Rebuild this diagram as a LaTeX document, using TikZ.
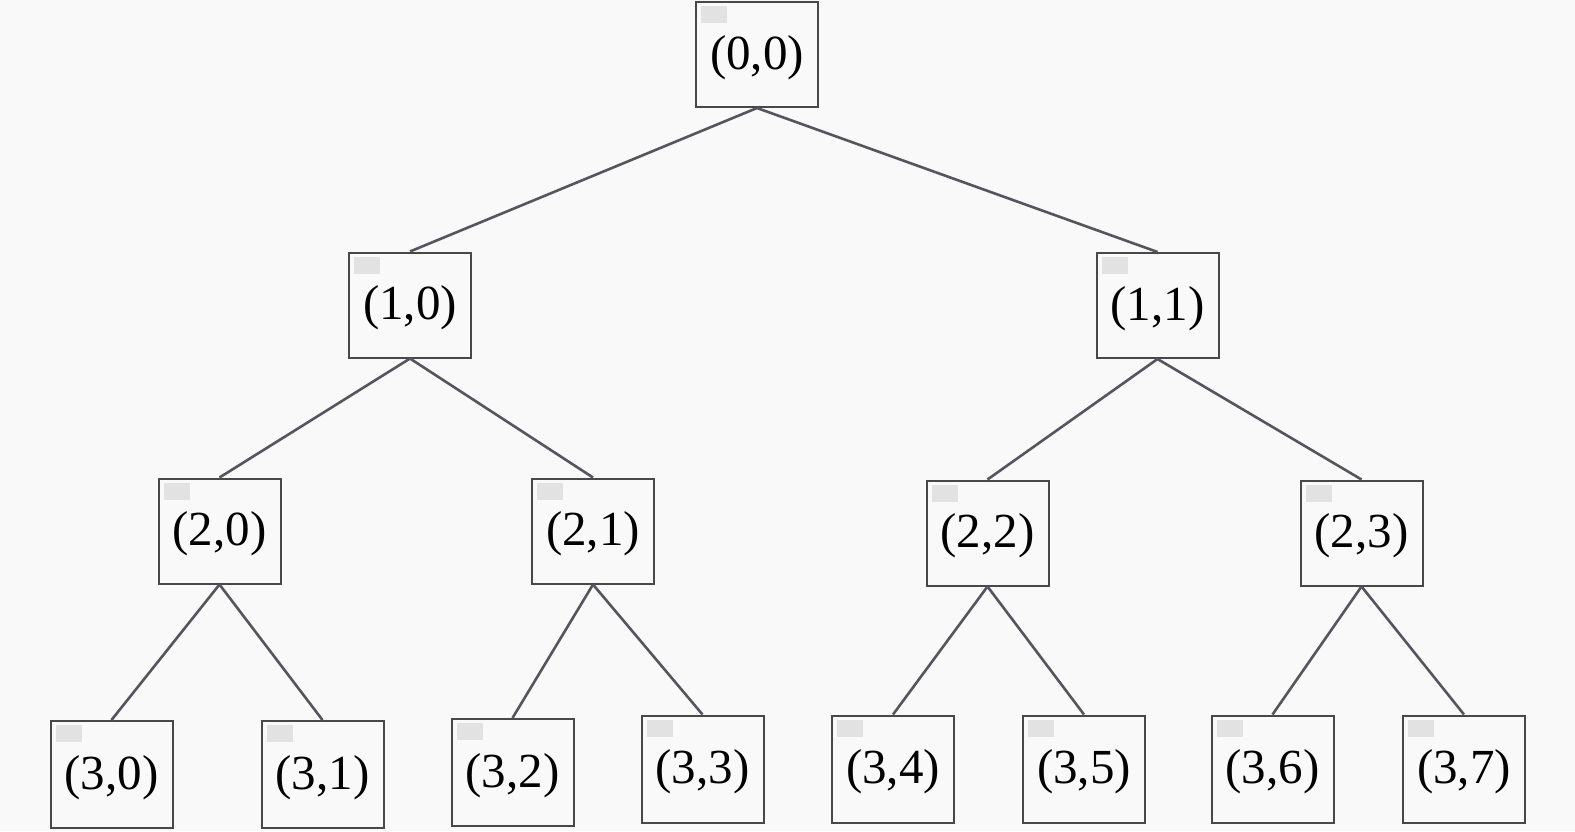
\documentclass[tikz,border=0pt]{standalone}
\usepackage{fontspec}
\setmainfont{Liberation Serif}
\definecolor{bgc}{HTML}{F9F9F9}
\definecolor{boxline}{HTML}{484848}
\definecolor{edgec}{HTML}{555560}
\definecolor{patchc}{HTML}{E2E2E2}
\begin{document}
\begin{tikzpicture}[x=1pt,y=-1pt,
  tbox/.style={draw=boxline, line width=2pt, fill=bgc, minimum width=122pt, minimum height=105pt,
    inner sep=0pt, text height=40pt, text depth=11pt, font=\fontsize{49}{52}\selectfont,
    path picture={\fill[patchc] ([xshift=5pt,yshift=-4pt]path picture bounding box.north west) rectangle ++(26pt,-17pt);}},
  lbox/.style={tbox, minimum height=107pt},
  edge/.style={draw=edgec, line width=2.6pt}]
\fill[bgc] (0,0) rectangle (1575,831);
\useasboundingbox (0,0) rectangle (1575,831);
\node[tbox] (n00) at (757,54.5) {(0,0)};
\node[tbox] (n10) at (410,305) {(1,0)};
\node[tbox] (n11) at (1157.5,305.5) {(1,1)};
\node[tbox] (n20) at (219.5,531) {(2,0)};
\node[tbox] (n21) at (593,531) {(2,1)};
\node[tbox] (n22) at (987.5,533) {(2,2)};
\node[tbox] (n23) at (1361.5,533) {(2,3)};
\node[lbox] (n30) at (111.5,774.5) {(3,0)};
\node[lbox] (n31) at (322.5,774.5) {(3,1)};
\node[lbox] (n32) at (512.5,772.5) {(3,2)};
\node[lbox] (n33) at (702.5,769) {(3,3)};
\node[lbox] (n34) at (893,769) {(3,4)};
\node[lbox] (n35) at (1084,769) {(3,5)};
\node[lbox] (n36) at (1272.5,769) {(3,6)};
\node[lbox] (n37) at (1464,769) {(3,7)};
\path[edge] (n00.south) -- (n10.north);
\path[edge] (n00.south) -- (n11.north);
\path[edge] (n10.south) -- (n20.north);
\path[edge] (n10.south) -- (n21.north);
\path[edge] (n11.south) -- (n22.north);
\path[edge] (n11.south) -- (n23.north);
\path[edge] (n20.south) -- (n30.north);
\path[edge] (n20.south) -- (n31.north);
\path[edge] (n21.south) -- (n32.north);
\path[edge] (n21.south) -- (n33.north);
\path[edge] (n22.south) -- (n34.north);
\path[edge] (n22.south) -- (n35.north);
\path[edge] (n23.south) -- (n36.north);
\path[edge] (n23.south) -- (n37.north);
\end{tikzpicture}
\end{document}
